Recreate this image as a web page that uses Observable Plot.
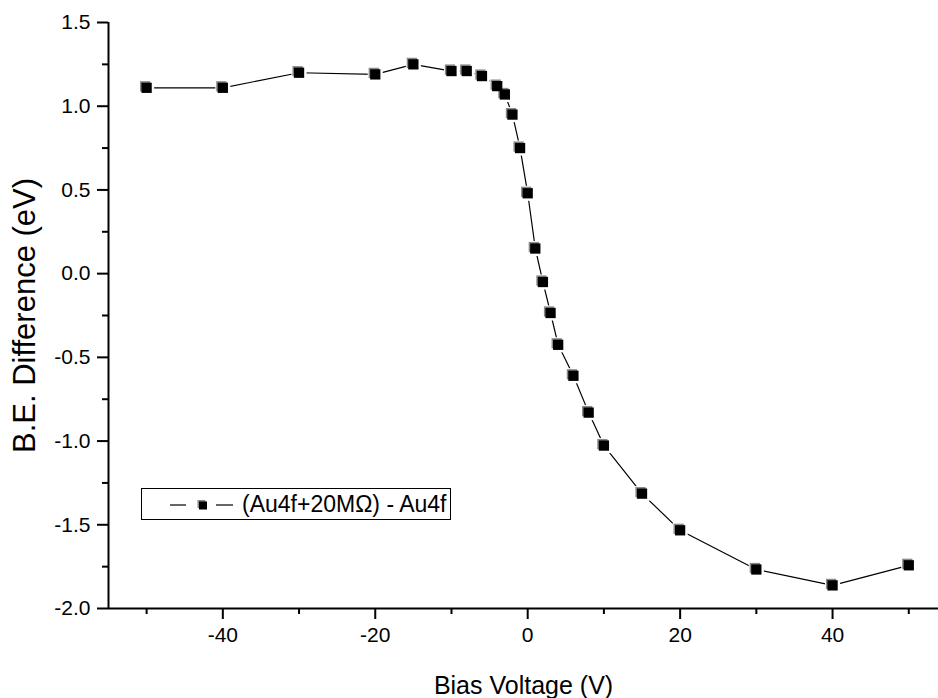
<!DOCTYPE html>
<html>
<head>
<meta charset="utf-8">
<script src="https://cdn.jsdelivr.net/npm/d3@7"></script>
<script src="https://cdn.jsdelivr.net/npm/@observablehq/plot@0.6"></script>
<style>
  html, body { margin: 0; padding: 0; background: #fff; }
  #wrap { position: relative; width: 938px; height: 698px; font-family: "Liberation Sans", Arial, sans-serif; }
  #legend { position: absolute; left: 141px; top: 488px; height: 32px; border: 1.3px solid #000; background: #fff;
            display: flex; align-items: center; padding-right: 4px; box-sizing: border-box; }
  #legend span { font-size: 23px; color: #000; line-height: 1; }
</style>
</head>
<body>
<div id="wrap"></div>
<script>
// ---- data ----
const biasVoltage = [-50, -40, -30, -20, -15, -10, -8, -6, -4, -3, -2, -1, 0, 1, 2, 3, 4, 6, 8, 10, 15, 20, 30, 40, 50];
const beDifference = [1.11, 1.11, 1.20, 1.19, 1.25, 1.21, 1.21, 1.18, 1.12, 1.07, 0.95, 0.75, 0.48, 0.15, -0.05, -0.235, -0.425, -0.61, -0.83, -1.027, -1.314, -1.533, -1.767, -1.862, -1.742];
const seriesName = "(Au4f+20M\u03A9) - Au4f";
const xTicks = [-40, -20, 0, 20, 40];
const xMinorTicks = [-50, -30, -10, 10, 30, 50];
const yTicks = [-2.0, -1.5, -1.0, -0.5, 0.0, 0.5, 1.0, 1.5];
const yMinorTicks = [-1.75, -1.25, -0.75, -0.25, 0.25, 0.75, 1.25];
const xDomain = [-55, 53.9];
const yDomain = [-2.0, 1.5];
const xLabel = "Bias Voltage (V)";
const yLabel = "B.E. Difference (eV)";

const data = biasVoltage.map((v, i) => ({x: v, y: beDifference[i]}));

const chart = Plot.plot({
  width: 938,
  height: 698,
  marginLeft: 108,
  marginRight: 0,
  marginTop: 22,
  marginBottom: 90,
  x: {domain: xDomain},
  y: {domain: yDomain},
  style: {fontFamily: "'Liberation Sans', Arial, sans-serif", background: "#fff", color: "#000", overflow: "visible"},
  marks: [
    // axis lines
    Plot.ruleX([xDomain[0]], {stroke: "#000", strokeWidth: 2}),
    Plot.ruleY([yDomain[0]], {stroke: "#000", strokeWidth: 2}),
    // x axis
    Plot.axisX({ticks: xTicks, tickSize: 11, tickPadding: 8, strokeWidth: 2, fontSize: 21,
                tickFormat: d => String(d), label: null}),
    Plot.axisX({ticks: xMinorTicks, tickSize: 6, strokeWidth: 2, text: null, label: null}),
    Plot.axisX({ticks: [], tickSize: 0, label: xLabel, labelAnchor: "center", labelOffset: 85,
                labelArrow: "none", fontSize: 25}),
    // y axis
    Plot.axisY({ticks: yTicks, tickSize: 11, tickPadding: 7, strokeWidth: 2, fontSize: 21,
                tickFormat: d => d.toFixed(1), label: null}),
    Plot.axisY({ticks: yMinorTicks, tickSize: 6, strokeWidth: 2, text: null, label: null}),
    Plot.axisY({ticks: [], tickSize: 0, label: yLabel, labelAnchor: "center", labelOffset: 96,
                labelArrow: "none", fontSize: 31}),
    // series
    Plot.line(data, {x: "x", y: "y", stroke: "#000", strokeWidth: 1.2}),
    Plot.dot(data, {x: "x", y: "y", symbol: "square", r: 8.5, fill: "#fff", stroke: "none"}),
    Plot.dot(data, {x: "x", y: "y", symbol: "square", r: 5.8, fill: "#8a8a8a", stroke: "none", dx: -1.5, dy: -1.5}),
    Plot.dot(data, {x: "x", y: "y", symbol: "square", r: 5.8, fill: "#000", stroke: "none"})
  ]
});

const wrap = document.getElementById("wrap");
wrap.appendChild(chart);

// legend
const legend = document.createElement("div");
legend.id = "legend";
legend.innerHTML =
  '<svg width="100" height="29" style="display:block">' +
  '<line x1="28" x2="44" y1="15" y2="15" stroke="#000" stroke-width="1.2"/>' +
  '<line x1="74" x2="91" y1="15" y2="15" stroke="#000" stroke-width="1.2"/>' +
  '<rect x="55.5" y="10" width="8" height="8" fill="#8a8a8a"/>' +
  '<rect x="57" y="11.5" width="8" height="8" fill="#000"/>' +
  '</svg><span></span>';
legend.querySelector("span").textContent = seriesName;
wrap.appendChild(legend);
</script>
</body>
</html>
